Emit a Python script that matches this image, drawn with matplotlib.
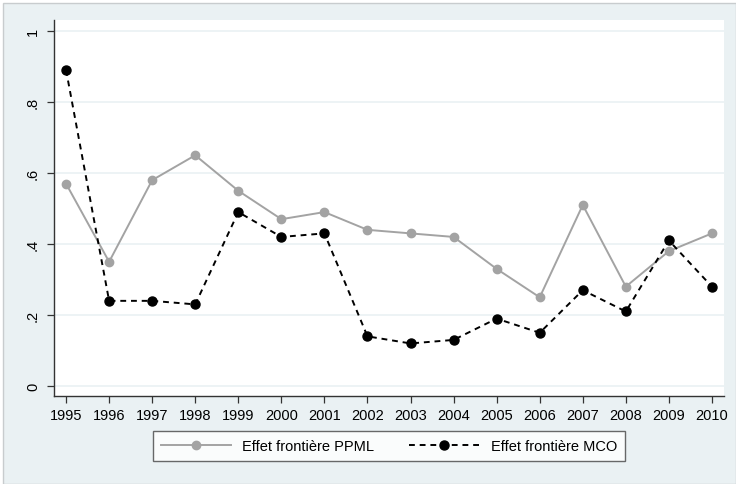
import matplotlib
matplotlib.use("Agg")
import matplotlib.pyplot as plt
from matplotlib.patches import Rectangle

plt.rcParams.update({
    "font.family": ["Liberation Sans", "DejaVu Sans"],
    "font.size": 10.5,
})

years = list(range(1995, 2011))
ppml = [0.57, 0.35, 0.58, 0.65, 0.55, 0.47, 0.49, 0.44, 0.43, 0.42,
        0.33, 0.25, 0.51, 0.28, 0.38, 0.43]
mco = [0.89, 0.24, 0.24, 0.23, 0.49, 0.42, 0.43, 0.14, 0.12, 0.13,
       0.19, 0.15, 0.27, 0.21, 0.41, 0.28]
yticks = [0, 0.2, 0.4, 0.6, 0.8, 1.0]
ytick_labels = ["0", ".2", ".4", ".6", ".8", "1"]
labels = ["Effet frontière PPML", "Effet frontière MCO"]

BG = "#EAF1F3"

fig = plt.figure(figsize=(7.36, 4.85), dpi=100, facecolor="white")
fig.patches.append(Rectangle((3 / 736, 0), 733 / 736, 481 / 485,
                             transform=fig.transFigure, facecolor=BG,
                             edgecolor="#C8CCCE", linewidth=1.0, zorder=-10))

ax = fig.add_axes([54 / 736, 88 / 485, 670 / 736, 376 / 485])
ax.set_facecolor("white")

ax.plot(years, ppml, color="#A3A3A3", linewidth=1.4, marker="o",
        markersize=6, label=labels[0], zorder=3)
ax.plot(years, mco, color="black", linewidth=1.4, linestyle=(0, (3, 2.5)),
        marker="o", markersize=6.5, label=labels[1], zorder=4)

ax.set_xlim(1994.72, 2010.28)
ax.set_ylim(-0.028, 1.031)
ax.set_xticks(years)
ax.set_xticklabels([str(y) for y in years])
ax.set_yticks(yticks)
ax.set_yticklabels(ytick_labels, rotation=90, va="center")
ax.grid(axis="y", color="#EAF1F3", linewidth=1.2)
ax.set_axisbelow(True)

for side in ["top", "right"]:
    ax.spines[side].set_visible(False)
for side in ["left", "bottom"]:
    ax.spines[side].set_color("#333333")
    ax.spines[side].set_linewidth(1.0)
ax.tick_params(axis="both", direction="out", length=5, width=0.9,
               color="#333333", labelsize=10.5)
ax.tick_params(axis="x", pad=4)
ax.tick_params(axis="y", pad=5)

leg = fig.legend(loc="center", bbox_to_anchor=(389 / 736, 38 / 485), ncol=2,
                 frameon=True, fancybox=False, handlelength=4.8,
                 columnspacing=2.4, handletextpad=0.8, borderpad=0.55,
                 fontsize=10.5)
leg.get_frame().set_edgecolor("#444444")
leg.get_frame().set_linewidth(1.0)

fig.savefig("out.png", dpi=100, facecolor=fig.get_facecolor())
